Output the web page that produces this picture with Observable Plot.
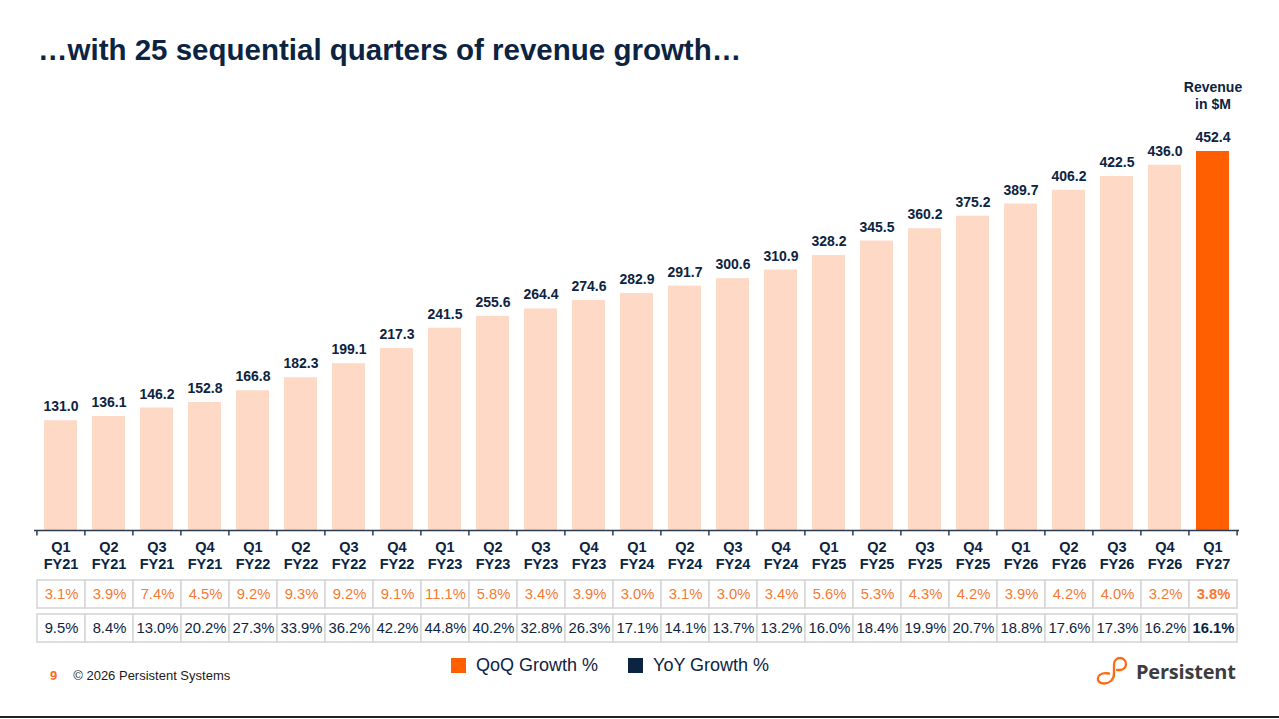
<!DOCTYPE html>
<html>
<head>
<meta charset="utf-8">
<script src="https://cdn.jsdelivr.net/npm/d3@7"></script>
<script src="https://cdn.jsdelivr.net/npm/@observablehq/plot@0.6"></script>
<style>
  html, body { margin: 0; padding: 0; background: #fff; }
  body { width: 1279px; height: 719px; position: relative; overflow: hidden; font-family: "Liberation Sans", Arial, sans-serif; }
  #title { position: absolute; left: 38px; top: 33px; font-size: 29.5px; font-weight: bold; color: #0c2442; white-space: nowrap; }
  #chart { position: absolute; left: 0; top: 70px; }
  #table { position: absolute; left: 0; top: 578px; }
  #legend { position: absolute; left: 451px; top: 655px; display: flex; align-items: center; font-size: 18px; color: #0c2442; }
  #legend .sw { width: 15px; height: 15px; display: inline-block; margin-right: 10px; }
  #legend .item { display: flex; align-items: center; margin-right: 30px; }
  #footer { position: absolute; left: 50px; top: 668px; font-size: 13px; color: #1a1a1a; }
  #footer b { color: #ff6a13; margin-right: 16px; }
  #logo { position: absolute; left: 1094px; top: 655px; display: flex; align-items: center; }
  #logo span { font-family: "Open Sans", sans-serif; font-weight: bold; font-size: 20px; color: #3d3d3d; margin-left: 6px; letter-spacing: -0.2px; }
  #bottomline { position: absolute; left: 0; top: 716px; width: 1279px; height: 2px; background: #222; }
</style>
</head>
<body>
<div id="title">…with 25 sequential quarters of revenue growth…</div>
<div id="chart"></div>
<div id="table"></div>
<div id="legend"></div>
<div id="footer"><b>9</b>© 2026 Persistent Systems</div>
<div id="logo">
  <svg width="36" height="32" viewBox="0 0 36 32">
    <path d="M 20 21 L 20 9 A 6 6 0 1 1 26 15 L 23 15" fill="none" stroke="#ff6a13" stroke-width="2.3" stroke-linecap="round"/>
    <path d="M 20 19 C 20 25 15 28.5 10 28.5 C 5.5 28.5 3 25.5 4 22.5 C 5 19 9.5 17.5 15 18.5" fill="none" stroke="#ff6a13" stroke-width="2.3" stroke-linecap="round"/>
  </svg>
  <span>Persistent</span>
</div>
<div id="bottomline"></div>
<script>
// ---- data ----
const quarters = ["Q1","Q2","Q3","Q4","Q1","Q2","Q3","Q4","Q1","Q2","Q3","Q4","Q1","Q2","Q3","Q4","Q1","Q2","Q3","Q4","Q1","Q2","Q3","Q4","Q1"];
const fiscalYears = ["FY21","FY21","FY21","FY21","FY22","FY22","FY22","FY22","FY23","FY23","FY23","FY23","FY24","FY24","FY24","FY24","FY25","FY25","FY25","FY25","FY26","FY26","FY26","FY26","FY27"];
const revenue = [131.0,136.1,146.2,152.8,166.8,182.3,199.1,217.3,241.5,255.6,264.4,274.6,282.9,291.7,300.6,310.9,328.2,345.5,360.2,375.2,389.7,406.2,422.5,436.0,452.4];
const qoqGrowth = [3.1,3.9,7.4,4.5,9.2,9.3,9.2,9.1,11.1,5.8,3.4,3.9,3.0,3.1,3.0,3.4,5.6,5.3,4.3,4.2,3.9,4.2,4.0,3.2,3.8];
const yoyGrowth = [9.5,8.4,13.0,20.2,27.3,33.9,36.2,42.2,44.8,40.2,32.8,26.3,17.1,14.1,13.7,13.2,16.0,18.4,19.9,20.7,18.8,17.6,17.3,16.2,16.1];
const rowNames = ["QoQ Growth %", "YoY Growth %"];
const unitLabel = "Revenue\nin $M";

// ---- styles ----
const NAVY = "#0c2442";
const PEACH = "#fdd9c6";
const ORANGE = "#ff5f00";
const ORANGE_TXT = "#f57a33";

const cats = quarters.map((q, i) => `${q}\n${fiscalYears[i]}`);
const last = cats[cats.length - 1];
const bars = cats.map((c, i) => ({cat: c, value: revenue[i], latest: i === cats.length - 1}));

const W = 1279, ML = 34, MR = 40;
const step = (W - ML - MR) / cats.length;

const chart = Plot.plot({
  width: W,
  height: 510,
  marginLeft: ML,
  marginRight: MR,
  marginTop: 81,
  marginBottom: 50,
  style: {fontFamily: "Liberation Sans, Arial, sans-serif", background: "transparent"},
  x: {domain: cats, paddingInner: 0.32, paddingOuter: 0.16, label: null},
  y: {domain: [0, d3.max(revenue)], axis: null},
  marks: [
    Plot.barY(bars, {x: "cat", y: "value", fill: d => d.latest ? ORANGE : PEACH}),
    Plot.text(bars, {x: "cat", y: "value", text: d => d.value.toFixed(1), dy: -14, fontSize: 14, fontWeight: "bold", fill: NAVY}),
    Plot.text([unitLabel], {x: () => last, frameAnchor: "top", lineAnchor: "top", dy: -71, fontSize: 14, fontWeight: "bold", fill: NAVY, lineHeight: 1.2}),
    Plot.ruleY([0], {stroke: "#2b3a4e", strokeWidth: 1.5}),
    Plot.ruleX(cats, {x: d => d, y1: 0, y2: -6.5, dx: -step / 2, stroke: "#2b3a4e", strokeWidth: 1.5}),
    Plot.ruleX([last], {x: d => d, y1: 0, y2: -6.5, dx: step / 2, stroke: "#2b3a4e", strokeWidth: 1.5}),
    Plot.axisX({tickSize: 0, tickPadding: 9, fontSize: 14.5, fontWeight: "bold", fill: NAVY, label: null, lineHeight: 1.17})
  ]
});
document.getElementById("chart").append(chart);

// ---- growth table ----
const rows = [];
cats.forEach((c, i) => {
  rows.push({cat: c, row: rowNames[0], v: qoqGrowth[i], latest: i === cats.length - 1});
  rows.push({cat: c, row: rowNames[1], v: yoyGrowth[i], latest: i === cats.length - 1});
});
const table = Plot.plot({
  width: W,
  height: 68,
  marginLeft: ML,
  marginRight: MR,
  marginTop: 1,
  marginBottom: 3,
  style: {fontFamily: "Liberation Sans, Arial, sans-serif", background: "transparent"},
  x: {domain: cats, padding: 0, axis: null},
  y: {domain: rowNames, paddingInner: 0.1714, paddingOuter: 0, axis: null},
  marks: [
    Plot.cell(rows, {x: "cat", y: "row", fill: "white", stroke: "#d6d6d6", strokeWidth: 1.6}),
    Plot.text(rows.filter(d => !d.latest), {x: "cat", y: "row", text: d => d.v.toFixed(1) + "%", fill: d => d.row === rowNames[0] ? ORANGE_TXT : NAVY, fontSize: 14.8}),
    Plot.text(rows.filter(d => d.latest), {x: "cat", y: "row", text: d => d.v.toFixed(1) + "%", fill: d => d.row === rowNames[0] ? ORANGE_TXT : NAVY, fontSize: 14.8, fontWeight: "bold"})
  ]
});
document.getElementById("table").append(table);

// ---- legend ----
const legend = document.getElementById("legend");
[[rowNames[0], ORANGE], [rowNames[1], NAVY]].forEach(([name, col]) => {
  const item = document.createElement("div");
  item.className = "item";
  const sw = document.createElement("span");
  sw.className = "sw";
  sw.style.background = col;
  const t = document.createElement("span");
  t.textContent = name;
  item.append(sw, t);
  legend.append(item);
});
</script>
</body>
</html>
